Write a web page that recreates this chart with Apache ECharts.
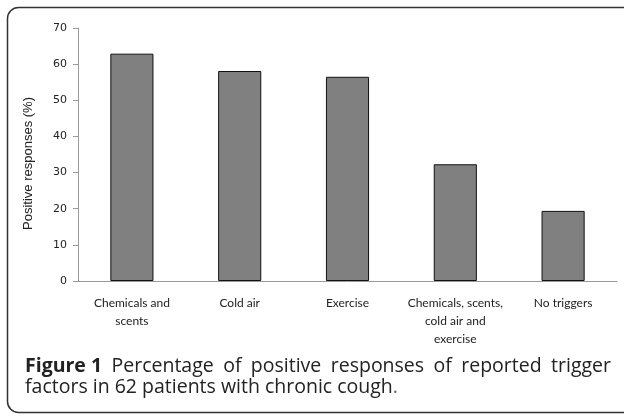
<!DOCTYPE html>
<html>
<head>
<meta charset="utf-8">
<script src="https://cdn.jsdelivr.net/npm/echarts@6/dist/echarts.min.js"></script>
<style>
html,body{margin:0;padding:0;background:#fff;}
#c{width:624px;height:416px;}
</style>
</head>
<body>
<div id="c"></div>
<script>
const categories = ['Chemicals and\nscents', 'Cold air', 'Exercise', 'Chemicals, scents,\ncold air and\nexercise', 'No triggers'];
const values = [62.9, 58.1, 56.5, 32.3, 19.4];
const yTicks = [0, 10, 20, 30, 40, 50, 60, 70];
const yName = 'Positive responses (%)';
const captionBold = 'Figure 1';
const captionLine1 = 'Percentage of positive responses of reported trigger';
const captionLine2 = 'factors in 62 patients with chronic cough';

const chart = echarts.init(document.getElementById('c'), null, {renderer: 'canvas'});

// caption layout (justified first line)
const capFont = 'Open Sans';
const ctx = document.createElement('canvas').getContext('2d');
function w(text, bold, size) {
  ctx.font = (bold ? 'bold ' : '') + size + 'px ' + capFont;
  return ctx.measureText(text).width;
}
let capSize = 16.5 * 367 / w(captionLine2, false, 16.5);
capSize = Math.round(capSize * 10) / 10;
const left = 25, right = 611, base1 = 373, base2 = 394;
const topOff = 17;
const words1 = [{t: captionBold, b: true}].concat(captionLine1.split(' ').map(t => ({t, b: false})));
let total = 0;
words1.forEach(o => { o.w = w(o.t, o.b, capSize); total += o.w; });
const gap = (right - left - total) / (words1.length - 1);
const captionEls = [];
let cx = left;
words1.forEach(o => {
  captionEls.push({type: 'text', x: cx, y: base1 - topOff,
    style: {text: o.t, font: (o.b ? 'bold ' : '') + capSize + 'px ' + capFont, fill: '#222', verticalAlign: 'top'}});
  cx += o.w + gap;
});
captionEls.push({type: 'text', x: left, y: base2 - topOff,
  style: {text: captionLine2, font: capSize + 'px ' + capFont, fill: '#222', verticalAlign: 'top'}});
captionEls.push({type: 'text', x: left + w(captionLine2, false, capSize), y: base2 - topOff,
  style: {text: '.', font: capSize + 'px ' + capFont, fill: '#666', verticalAlign: 'top'}});

chart.setOption({
  animation: false,
  grid: {left: 78, right: 7, top: 28, bottom: 135},
  xAxis: {
    type: 'category',
    data: categories,
    axisLine: {lineStyle: {color: '#9a9a9a', width: 1}},
    axisTick: {show: false},
    axisLabel: {interval: 0, color: '#222', fontFamily: 'Lato', fontSize: 12, lineHeight: 18, margin: 13}
  },
  yAxis: {
    type: 'value',
    min: yTicks[0], max: yTicks[yTicks.length - 1], interval: 10,
    name: yName,
    nameLocation: 'middle',
    nameGap: 43,
    nameTextStyle: {fontFamily: 'Liberation Sans', fontSize: 13, color: '#222', padding: [0, 18, 0, 0]},
    axisLine: {show: true, lineStyle: {color: '#9a9a9a', width: 1}},
    axisTick: {show: true, length: 5, lineStyle: {color: '#9a9a9a'}},
    axisLabel: {fontFamily: 'DejaVu Sans', fontSize: 11, color: '#222', margin: 11},
    splitLine: {show: false}
  },
  series: [{
    type: 'bar',
    data: values,
    barWidth: '40%',
    itemStyle: {color: '#808080', borderColor: '#111', borderWidth: 1}
  }],
  graphic: [{
    type: 'rect', silent: true,
    shape: {x: 7.5, y: 7.5, width: 660, height: 405, r: 11},
    style: {fill: 'none', stroke: '#333', lineWidth: 1.5}
  }].concat(captionEls)
});
</script>
</body>
</html>
